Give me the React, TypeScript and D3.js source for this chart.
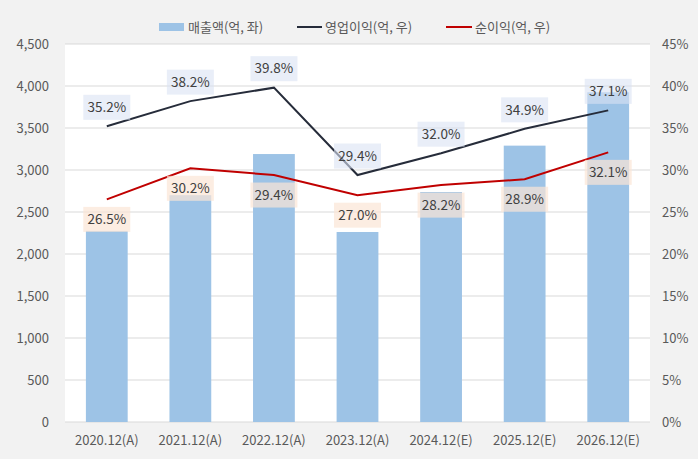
import React from "react";
import * as d3 from "d3";

const categories = ["2020.12(A)", "2021.12(A)", "2022.12(A)", "2023.12(A)", "2024.12(E)", "2025.12(E)", "2026.12(E)"];
const revenue = [2275, 2700, 3190, 2262, 2738, 3290, 3925];
const opMargin = [35.2, 38.2, 39.8, 29.4, 32.0, 34.9, 37.1];
const netMargin = [26.5, 30.2, 29.4, 27.0, 28.2, 28.9, 32.1];
const leftTicks = [0, 500, 1000, 1500, 2000, 2500, 3000, 3500, 4000, 4500];
const rightTicks = [0, 5, 10, 15, 20, 25, 30, 35, 40, 45];
const legendLabels = ["매출액(억, 좌)", "영업이익(억, 우)", "순이익(억, 우)"];

const W = 698, H = 459;
const plot = { left: 65, right: 650, top: 44, bottom: 422 };
const FONT = "'Noto Sans CJK KR', 'Noto Sans', sans-serif";
const TXT = "#595959";

export default function App() {
  const x = d3.scaleBand<string>().domain(categories).range([plot.left, plot.right]).paddingInner(0.5).paddingOuter(0.25);
  const yL = d3.scaleLinear().domain([0, 4500]).range([plot.bottom, plot.top]);
  const yR = d3.scaleLinear().domain([0, 45]).range([plot.bottom, plot.top]);
  const cx = (c: string) => (x(c) as number) + x.bandwidth() / 2;
  const line = d3.line<number>().x((_, i) => cx(categories[i])).y((d) => yR(d));
  const boxW = 47, boxH = 25;

  return (
    <svg width={W} height={H} style={{ position: "absolute", left: 0, top: 0, fontFamily: FONT }}>
      <rect x={0} y={0} width={W} height={H} fill="#f2f2f2" />
      <rect x={plot.left} y={plot.top} width={plot.right - plot.left} height={plot.bottom - plot.top} fill="#ffffff" />
      {leftTicks.map((t) => (
        <line key={t} x1={plot.left} x2={plot.right} y1={yL(t)} y2={yL(t)} stroke="#d9d9d9" strokeWidth={1} />
      ))}
      {leftTicks.map((t) => (
        <text key={t} x={49} y={yL(t)} dy="0.35em" textAnchor="end" fontSize={13} fill={TXT}>
          {d3.format(",")(t)}
        </text>
      ))}
      {rightTicks.map((t) => (
        <text key={t} x={662} y={yR(t)} dy="0.35em" textAnchor="start" fontSize={13} fill={TXT}>
          {t}%
        </text>
      ))}
      {categories.map((c) => (
        <text key={c} x={cx(c)} y={440} dy="0.35em" textAnchor="middle" fontSize={13} fill={TXT}>
          {c}
        </text>
      ))}
      {categories.map((c, i) => (
        <rect key={c} x={x(c)} y={yL(revenue[i])} width={x.bandwidth()} height={plot.bottom - yL(revenue[i])} fill="#9dc3e6" />
      ))}
      <path d={line(opMargin) || ""} fill="none" stroke="#262c3a" strokeWidth={2} />
      <path d={line(netMargin) || ""} fill="none" stroke="#c00000" strokeWidth={2} />
      {categories.map((c, i) => {
        const yc = yR(opMargin[i]) - 19;
        return (
          <g key={"op" + c}>
            <rect x={cx(c) - boxW / 2} y={yc - boxH / 2} width={boxW} height={boxH} fill="#dae3f3" fillOpacity={0.6} />
            <text x={cx(c)} y={yc} dy="0.35em" textAnchor="middle" fontSize={13.5} fill="#404040">
              {opMargin[i].toFixed(1)}%
            </text>
          </g>
        );
      })}
      {categories.map((c, i) => {
        const yc = yR(netMargin[i]) + 20;
        return (
          <g key={"net" + c}>
            <rect x={cx(c) - boxW / 2} y={yc - boxH / 2} width={boxW} height={boxH} fill="#fbe5d6" fillOpacity={0.7} />
            <text x={cx(c)} y={yc} dy="0.35em" textAnchor="middle" fontSize={13.5} fill="#404040">
              {netMargin[i].toFixed(1)}%
            </text>
          </g>
        );
      })}
      <g>
        <rect x={159} y={23} width={25} height={8} fill="#9dc3e6" />
        <text x={188} y={27} dy="0.35em" fontSize={13} fill={TXT}>{legendLabels[0]}</text>
        <line x1={297} x2={322} y1={27} y2={27} stroke="#262c3a" strokeWidth={2} />
        <text x={325} y={27} dy="0.35em" fontSize={13} fill={TXT}>{legendLabels[1]}</text>
        <line x1={446} x2={472} y1={27} y2={27} stroke="#c00000" strokeWidth={2} />
        <text x={475} y={27} dy="0.35em" fontSize={13} fill={TXT}>{legendLabels[2]}</text>
      </g>
    </svg>
  );
}
